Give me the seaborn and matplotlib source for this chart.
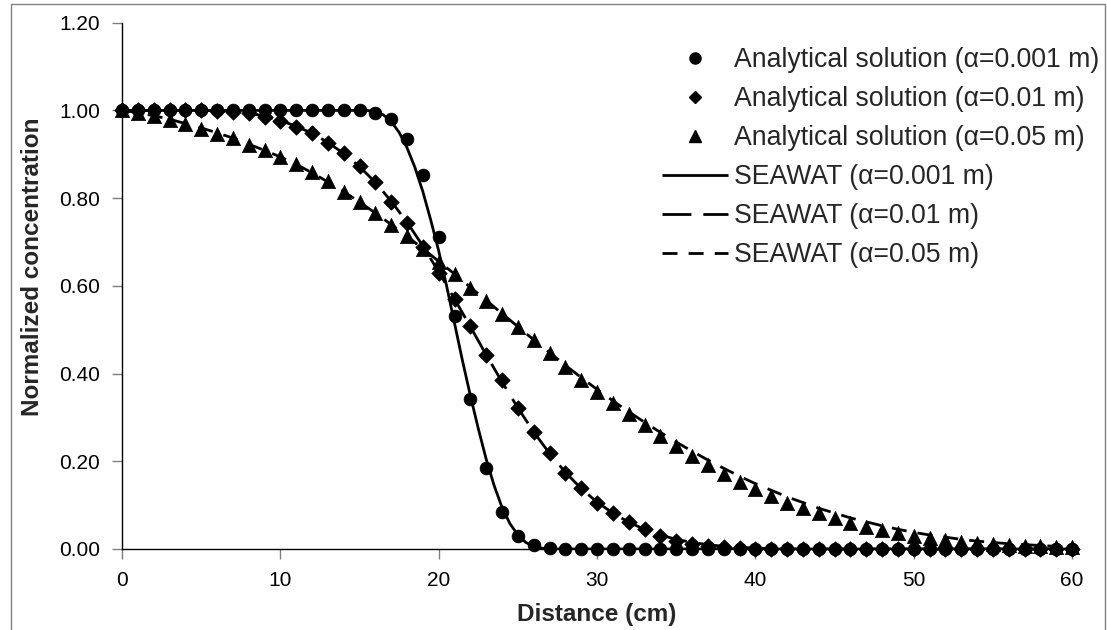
import numpy as np
import pandas as pd
import matplotlib
matplotlib.use("Agg")
import matplotlib.pyplot as plt
import seaborn as sns
from matplotlib.lines import Line2D
from matplotlib.patches import Rectangle

# ---------------- data ----------------
x_analytical = list(range(0, 61))

ana_0001 = [1.0] * 16 + [0.993, 0.980, 0.935, 0.853, 0.712, 0.532, 0.341, 0.185,
                         0.084, 0.030, 0.008, 0.002] + [0.0] * 33

ana_001 = [1.0, 1.0, 1.0, 1.0, 1.0, 1.0, 0.999, 0.997, 0.993, 0.985, 0.975, 0.963,
           0.948, 0.926, 0.902, 0.873, 0.837, 0.792, 0.743, 0.688, 0.630, 0.570,
           0.508, 0.442, 0.385, 0.322, 0.267, 0.220, 0.174, 0.138, 0.106, 0.082,
           0.062, 0.045, 0.030, 0.019, 0.012, 0.007, 0.004, 0.002, 0.001] + [0.0] * 20

ana_005 = [1.0, 0.993, 0.987, 0.978, 0.969, 0.958, 0.947, 0.936, 0.922, 0.909,
           0.894, 0.878, 0.859, 0.838, 0.815, 0.792, 0.767, 0.739, 0.713, 0.685,
           0.655, 0.626, 0.596, 0.565, 0.536, 0.506, 0.476, 0.446, 0.414, 0.386,
           0.359, 0.332, 0.307, 0.282, 0.258, 0.234, 0.212, 0.191, 0.172, 0.153,
           0.136, 0.121, 0.106, 0.093, 0.081, 0.070, 0.060, 0.051, 0.043, 0.036,
           0.030, 0.025, 0.021, 0.017, 0.014, 0.011, 0.009, 0.007, 0.006, 0.005,
           0.004]

x_sea_0001 = list(range(0, 16)) + [15.5, 16, 16.5, 17, 17.5, 18, 18.5, 19, 19.5, 20,
                                   20.5, 21, 21.5, 22, 22.5, 23, 23.5, 24, 24.5, 25,
                                   25.5, 26, 26.5, 27] + list(range(28, 61))
sea_0001 = [1.0] * 16 + [1.0, 0.997, 0.990, 0.975, 0.950, 0.915, 0.870, 0.815, 0.750,
                         0.680, 0.600, 0.515, 0.430, 0.350, 0.275, 0.205, 0.145,
                         0.095, 0.058, 0.032, 0.015, 0.006, 0.002, 0.0] + [0.0] * 33

x_sea = list(range(0, 61))
sea_001 = [1.0, 1.0, 1.0, 1.0, 1.0, 1.0, 1.0, 0.998, 0.994, 0.987, 0.977, 0.964,
           0.948, 0.927, 0.902, 0.872, 0.836, 0.793, 0.745, 0.691, 0.632, 0.570,
           0.507, 0.443, 0.381, 0.322, 0.267, 0.218, 0.175, 0.138, 0.107, 0.082,
           0.061, 0.045, 0.032, 0.022, 0.015, 0.010, 0.006, 0.004, 0.002, 0.001] + [0.0] * 19

sea_005 = [1.0, 0.995, 0.988, 0.980, 0.970, 0.960, 0.949, 0.937, 0.923, 0.909,
           0.894, 0.877, 0.858, 0.837, 0.815, 0.791, 0.766, 0.740, 0.713, 0.685,
           0.656, 0.627, 0.597, 0.567, 0.537, 0.507, 0.477, 0.448, 0.419, 0.391,
           0.364, 0.338, 0.313, 0.289, 0.266, 0.244, 0.223, 0.203, 0.184, 0.166,
           0.149, 0.134, 0.119, 0.106, 0.093, 0.082, 0.071, 0.062, 0.053, 0.045,
           0.038, 0.032, 0.027, 0.022, 0.018, 0.015, 0.012, 0.010, 0.008, 0.006,
           0.005]

labels_ana = ["Analytical solution (\u03b1=0.001 m)",
              "Analytical solution (\u03b1=0.01 m)",
              "Analytical solution (\u03b1=0.05 m)"]
labels_sea = ["SEAWAT (\u03b1=0.001 m)",
              "SEAWAT (\u03b1=0.01 m)",
              "SEAWAT (\u03b1=0.05 m)"]
x_ticks = [0, 10, 20, 30, 40, 50, 60]
y_ticks = [0.0, 0.2, 0.4, 0.6, 0.8, 1.0, 1.2]

# ---------------- style ----------------
sns.set_theme(style="white")
plt.rcParams["font.family"] = ["Liberation Sans", "DejaVu Sans"]

fig = plt.figure(figsize=(11.07, 6.30), dpi=100)
ax = fig.add_axes([122 / 1107, 1 - 549 / 630, (1072 - 122) / 1107, (549 - 22.7) / 630])

LW = 2.0
sea_styles = [(0, ()), (0, (10.4, 4.3)), (0, (5.4, 4.0))]

# SEAWAT lines
for xs, ys, lab, ls in zip([x_sea_0001, x_sea, x_sea],
                           [sea_0001, sea_001, sea_005], labels_sea, sea_styles):
    d = pd.DataFrame({"x": xs, "y": ys})
    sns.lineplot(data=d, x="x", y="y", ax=ax, color="black", linewidth=LW,
                 linestyle=ls, sort=False, estimator=None, zorder=2)

# analytical markers
markers = ["o", "D", "^"]
msizes = [85, 62, 105]
for ys, lab, m, s in zip([ana_0001, ana_001, ana_005], labels_ana, markers, msizes):
    d = pd.DataFrame({"x": x_analytical, "y": ys})
    sns.scatterplot(data=d, x="x", y="y", ax=ax, color="black", marker=m, s=s,
                    edgecolor="black", linewidth=0.5, zorder=3, clip_on=False)

ax.set_xlim(0, 60)
ax.set_ylim(0, 1.2)
ax.set_xticks(x_ticks)
ax.set_yticks(y_ticks)
ax.set_yticklabels([f"{v:.2f}" for v in y_ticks])
ax.tick_params(axis="both", which="both", direction="out", length=7, width=1,
               color="#808080", labelsize=15, labelcolor="black", pad=9,
               left=True, bottom=True)
for sp in ["top", "right"]:
    ax.spines[sp].set_visible(False)
for sp in ["left", "bottom"]:
    ax.spines[sp].set_color("black")
    ax.spines[sp].set_linewidth(1.0)

ax.set_xlabel("Distance (cm)", fontsize=17.5, fontweight="bold")
ax.set_ylabel("Normalized concentration", fontsize=17.5, fontweight="bold")
ax.xaxis.set_label_coords(0.5, -(603 - 549) / (549 - 22.7))
ax.yaxis.set_label_coords((44 - 122) / 950, (549 - 267) / (549 - 22.7))

# legend
handles = [
    Line2D([], [], linestyle="none", marker="o", color="black", markersize=8),
    Line2D([], [], linestyle="none", marker="D", color="black", markersize=6.5),
    Line2D([], [], linestyle="none", marker="^", color="black", markersize=8.5),
    Line2D([], [], color="black", linewidth=LW, linestyle=sea_styles[0]),
    Line2D([], [], color="black", linewidth=LW, linestyle=sea_styles[1]),
    Line2D([], [], color="black", linewidth=LW, linestyle=sea_styles[2]),
]
fig.legend(handles, labels_ana + labels_sea, loc="upper right",
           bbox_to_anchor=(1099 / 1107, 1 - 47 / 630), bbox_transform=fig.transFigure,
           frameon=False, fontsize=19.2, handlelength=2.47, handletextpad=0.22,
           labelspacing=0.49, borderpad=0, borderaxespad=0)

# figure border
fig.patches.append(Rectangle((11 / 1107, -0.01), (1105 - 11) / 1107, 1.01 - 4 / 630,
                             transform=fig.transFigure, fill=False,
                             edgecolor="#808080", linewidth=1.0))

fig.savefig("out.png", dpi=100)
